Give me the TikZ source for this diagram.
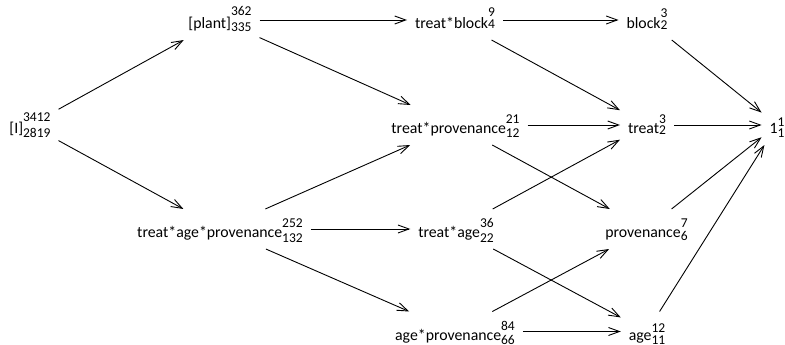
\documentclass[tikz,border=0pt]{standalone}
\usepackage{fontspec}
\setmainfont{Carlito}
\usetikzlibrary{arrows.meta}
\newcommand{\scr}{\fontsize{13.5}{14}\selectfont}
% name, sup, sub, raise of sup, drop of sub
\newcommand{\lbl}[5]{\rule[-5pt]{0pt}{27pt}#1{\scr\rlap{\raisebox{#4pt}{#2}}\raisebox{-#5pt}{#3}}}
\begin{document}
\begin{tikzpicture}[x=1pt,y=-1pt,
  every node/.style={font=\fontsize{15.8}{18}\selectfont, inner xsep=8pt, inner ysep=6.5pt, outer sep=0pt},
  edge/.style={draw=black, line width=0.9pt, -{Straight Barb[length=11pt,width=8pt,line width=0.9pt]}}]
\useasboundingbox (0,0) rectangle (785,345);
\node (I)     at (30,125)    {\lbl{[I]}{3412}{2819}{12}{4}};
\node (plant) at (220,20)    {\lbl{[plant]}{362}{335}{13}{3}};
\node (tb)    at (455,20)    {\lbl{treat*block}{9}{4}{12}{0.5}};
\node (block) at (647,20)    {\lbl{block}{3}{2}{11}{1}};
\node (tp)    at (455.5,125) {\lbl{treat*provenance}{21}{12}{10.5}{4}};
\node (treat) at (647,125)   {\lbl{treat}{3}{2}{10.5}{1}};
\node (one)   at (777,125)   {\lbl{1}{1}{1}{7}{4}};
\node (tap)   at (220,229)   {\lbl{treat*age*provenance}{252}{132}{10}{5}};
\node (ta)    at (456,229)   {\lbl{treat*age}{36}{22}{10}{5}};
\node (prov)  at (646.5,229) {\lbl{provenance}{7}{6}{10}{3}};
\node (ap)    at (455,331.5) {\lbl{age*provenance}{84}{66}{9.5}{4}};
\node (age)   at (647,331.5) {\lbl{age}{12}{11}{8}{4}};
\draw[edge] (I) -- (plant);
\draw[edge] (I) -- (tap);
\draw[edge] (plant) -- (tb);
\draw[edge] (plant) -- (tp);
\draw[edge] (tb) -- (block);
\draw[edge] (tb) -- (treat);
\draw[edge] (block) -- (one);
\draw[edge] (tp) -- (treat);
\draw[edge] (tp) -- (prov);
\draw[edge] (treat) -- (one);
\draw[edge] (tap) -- (tp);
\draw[edge] (tap) -- (ta);
\draw[edge] (tap) -- (ap);
\draw[edge] (ta) -- (treat);
\draw[edge] (ta) -- (age);
\draw[edge] (prov) -- (one);
\draw[edge] (ap) -- (prov);
\draw[edge] (ap) -- (age);
\draw[edge] (age) -- (one);
\end{tikzpicture}
\end{document}
